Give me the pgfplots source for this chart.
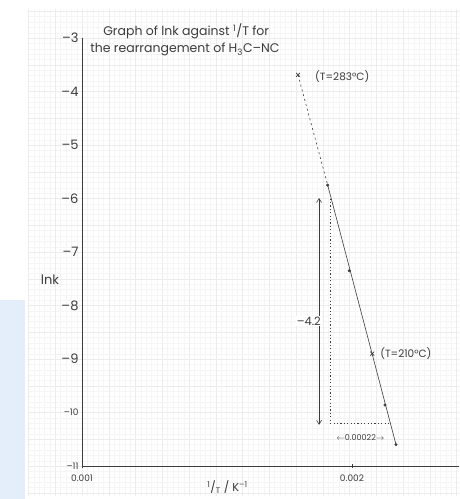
\documentclass[border=0pt]{standalone}
\usepackage{fontspec}
\setmainfont{Poppins}
\usepackage{pgfplots}
\usepackage{pgfplotstable}
\pgfplotsset{compat=1.18}
\usetikzlibrary{arrows.meta}
\definecolor{ink}{HTML}{3C3C3C}
\definecolor{gridminor}{HTML}{F5F5F5}
\definecolor{gridmajor}{HTML}{ECECEC}
\definecolor{sideblue}{HTML}{E4EEFA}

\pgfplotstableread{
x y
0.00191 -5.75
0.00199 -7.35
0.002122 -9.86
0.002163 -10.6
}\dots
\pgfplotstableread{
x y
0.0018 -3.69
0.002075 -8.9
}\crosses

\begin{document}
\begin{tikzpicture}
\fill[sideblue] (-82pt,-33pt) rectangle (-57pt,166pt);
\begin{scope}
\clip (-54pt,-29pt) rectangle (377pt,456pt);
\draw[gridminor, line width=0.25pt, step=5.35pt] (-60pt,-40pt) grid (380pt,460pt);
\draw[gridmajor, line width=0.35pt, step=26.75pt] (-60pt,-40pt) grid (380pt,460pt);
\end{scope}
\begin{axis}[
  at={(0,0)}, anchor=south west,
  scale only axis, width=377pt, height=428pt,
  xmin=0.001, xmax=0.0023963, ymin=-11, ymax=-3,
  axis lines=left,
  axis line style={-, draw=ink, line width=0.7pt},
  clip=false,
  scaled x ticks=false,
  xtick={0.001,0.002}, xticklabels={0.001,0.002},
  ytick={-11,-10,-9,-8,-7,-6,-5,-4,-3},
  yticklabels={{\small –11},{\small –10},–9,–8,–7,–6,–5,–4,–3},
  tick align=center,
  major tick length=4pt,
  ytick style={draw=none},
  xtick style={draw=ink, line width=0.6pt},
  yticklabel style={font=\fontsize{13}{13}\selectfont, text=ink, anchor=east, xshift=2pt},
  xticklabel style={font=\fontsize{9}{9}\selectfont, text=ink, yshift=-3pt},
  xlabel={\textsuperscript{1}/\textsubscript{T} / K\textsuperscript{–1}},
  xlabel style={font=\fontsize{11.5}{11.5}\selectfont, text=ink, at={(axis description cs:0.386,-0.026)}, anchor=north},
  ylabel={lnk},
  ylabel style={font=\fontsize{13}{13}\selectfont, text=ink, rotate=-90, at={(axis description cs:-0.085,0.435)}, anchor=center},
]
% extrapolated (dashed) part
\addplot[ink, line width=0.6pt, dash pattern=on 2pt off 3pt] coordinates {(0.0018,-3.69) (0.00191,-5.75)};
% best fit line
\addplot[ink, line width=0.6pt] coordinates {(0.00191,-5.75) (0.002163,-10.6)};
% construction triangle
\addplot[ink, line width=0.6pt, dash pattern=on 1.2pt off 2.2pt] coordinates {(0.00192,-6.0) (0.00192,-10.2) (0.00214,-10.2)};
% arrow for -4.2
\addplot[ink, line width=0.6pt, {Straight Barb[length=4pt,width=5pt]}-{Straight Barb[length=4pt,width=5pt]}] coordinates {(0.001878,-5.99) (0.001878,-10.23)};
\node[fill=white, inner sep=1pt, text=ink, font=\fontsize{11.5}{11.5}\selectfont] at (axis cs:0.00184,-8.29) {–4.2};
\node[text=ink, font=\fontsize{8}{8}\selectfont, inner sep=0pt] at (axis cs:0.002031,-10.46) {$\leftarrow$0.00022$\rightarrow$};
% data points
\addplot[only marks, mark=*, mark size=1.3pt, ink] table {\dots};
\addplot[only marks, mark=x, mark size=2.8pt, ink, line width=0.6pt] table {\crosses};
\node[anchor=west, text=ink, font=\fontsize{10.5}{10.5}\selectfont, inner sep=0pt] at (axis cs:0.001863,-3.73) {(T=283°C)};
\node[anchor=west, text=ink, font=\fontsize{10.5}{10.5}\selectfont, inner sep=0pt] at (axis cs:0.002104,-8.9) {(T=210°C)};
% title
\node[anchor=west, text=ink, font=\fontsize{12.5}{12.5}\selectfont, inner sep=0pt] at (axis cs:0.001078,-2.88) {Graph of lnk against \textsuperscript{1}/T for};
\node[anchor=west, text=ink, font=\fontsize{12.5}{12.5}\selectfont, inner sep=0pt] at (axis cs:0.00103,-3.22) {the rearrangement of H\textsubscript{3}C–NC};
\end{axis}
\pgfresetboundingbox
\path[use as bounding box] (-82pt,-33pt) rectangle (377pt,466pt);
\end{tikzpicture}
\end{document}
